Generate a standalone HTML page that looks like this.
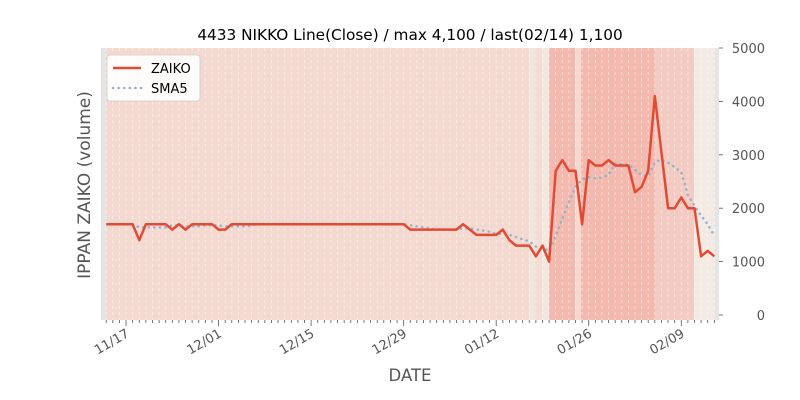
<!DOCTYPE html>
<html><head><meta charset="utf-8"><style>
html,body{margin:0;padding:0;background:#fff;width:800px;height:400px;overflow:hidden}
svg{display:block;font-family:"DejaVu Sans","Liberation Sans",sans-serif}
</style></head><body>
<svg id="s" width="800" height="400" xmlns="http://www.w3.org/2000/svg"></svg>
<script>
const s=document.getElementById('s');
const X0=106.2,DX=6.61,Y0=315,K=0.0534;
const x=i=>X0+DX*i, y=v=>Y0-v*K;
const vals=[1700,1700,1700,1700,1700,1400,1700,1700,1700,1700,1600,1700,1600,1700,1700,1700,1700,1600,1600,1700];
while(vals.length<46)vals.push(1700);
while(vals.length<54)vals.push(1600);
vals.push(1700,1600,1500,1500,1500,1500,1600,1400,1300,1300,1300,1100,1300,1000,2700,2900,2700,2700,1700,2900,2800,2800,2900,2800,2800,2800,2300,2400,2700,4100,3050,2000,2000,2200,2000,2000,1100,1200,1100);
let h='';
h+='<rect x="101" y="48" width="618" height="272" fill="#f4d9d0"/>';
const bands=[[101,106,'#e5e5e5'],[529,535,'#f2e5dc'],[535,542,'#f3dcd3'],[542,549,'#f3e8e0'],[549,575,'#f3b9af'],[575,581,'#f4d9d0'],[581,655,'#f3b9af'],[655,694,'#f3cbc2'],[694,714,'#f3ebe3'],[714,719,'#e5e5e5']];
for(const b of bands)h+=`<rect x="${b[0]}" y="48" width="${b[1]-b[0]}" height="272" fill="${b[2]}"/>`;
for(let i=-1;i<=93;i++){const xx=x(i);if(xx<101||xx>719)continue;
h+=`<line x1="${xx}" y1="48" x2="${xx}" y2="320" stroke="#fff" stroke-opacity="0.6" stroke-width="0.8" stroke-dasharray="3,3"/>`;
const major=(i-3)%14===0&&i>=3;
h+=`<line x1="${xx}" y1="320" x2="${xx}" y2="${major?326:323}" stroke="#555" stroke-width="0.8"/>`;}
const labs=['11/17','12/01','12/15','12/29','01/12','01/26','02/09'];
labs.forEach((l,k)=>{const xx=x(3+14*k);h+=`<text transform="translate(${xx+4},${336}) rotate(-30)" text-anchor="end" font-size="13" fill="#555">${l}</text>`;});
for(let v=0;v<=5000;v+=1000){h+=`<line x1="719" y1="${y(v)}" x2="723" y2="${y(v)}" stroke="#555" stroke-width="0.8"/><text x="765" y="${y(v)+5}" text-anchor="end" font-size="13" fill="#555">${v}</text>`;}
let sp=[];for(let i=4;i<vals.length;i++){let a=0;for(let j=i-4;j<=i;j++)a+=vals[j];sp.push(x(i).toFixed(1)+','+y(a/5).toFixed(1));}
h+=`<polyline points="${sp.join(' ')}" fill="none" stroke="#8db3d0" stroke-width="2.5" stroke-linecap="round" stroke-dasharray="0.1,5.5"/>`;
h+=`<polyline points="${vals.map((v,i)=>x(i).toFixed(1)+','+y(v).toFixed(1)).join(' ')}" fill="none" stroke="#e24a33" stroke-width="2.5" stroke-linejoin="round"/>`;
h+=`<text x="410" y="40" text-anchor="middle" font-size="15.3" fill="#000">4433 NIKKO Line(Close) / max 4,100 / last(02/14) 1,100</text>`;
h+=`<text x="410" y="381" text-anchor="middle" font-size="16.5" fill="#555">DATE</text>`;
h+=`<text transform="translate(90,185) rotate(-90)" text-anchor="middle" font-size="17" fill="#555">IPPAN ZAIKO (volume)</text>`;
h+=`<rect x="107" y="55" width="93" height="46" rx="3" fill="#fff" fill-opacity="0.9" stroke="#ccc" stroke-width="0.8"/>`;
h+=`<line x1="113" y1="68" x2="141" y2="68" stroke="#e24a33" stroke-width="2.5"/><text x="151" y="73" font-size="13" fill="#000">ZAIKO</text>`;
h+=`<line x1="113" y1="88" x2="141" y2="88" stroke="#8db3d0" stroke-width="2.5" stroke-linecap="round" stroke-dasharray="0.1,5.5"/><text x="151" y="93" font-size="13" fill="#000">SMA5</text>`;
s.innerHTML=h;
</script>
</body></html>
